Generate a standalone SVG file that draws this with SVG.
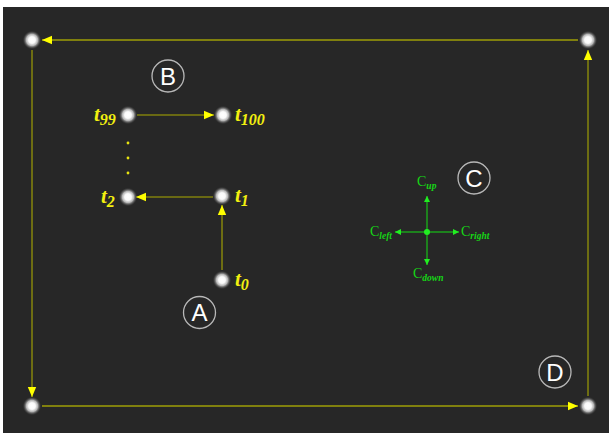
<svg xmlns="http://www.w3.org/2000/svg" width="609" height="433" viewBox="0 0 609 433">
  <style>
    .wire { stroke: #80800e; stroke-width: 2; fill: none; }
    .wire-thin { stroke: #80800e; stroke-width: 1.6; fill: none; }
    .gwire { stroke: #1c9a1c; stroke-width: 1.6; fill: none; }
    .tlabel { font-family: "Liberation Serif", "DejaVu Serif", serif; font-style: italic; font-weight: bold; font-size: 21px; fill: #f2ef10; }
    .tsub { font-size: 16px; }
    .clabel { font-family: "Liberation Serif", "DejaVu Serif", serif; font-size: 14px; fill: #16d616; }
    .csub { font-size: 9.5px; font-style: italic; font-weight: bold; }
    .tag circle { fill: none; stroke: #b8b8b8; stroke-width: 1.3; }
    .tag text { font-family: "Liberation Sans", "DejaVu Sans", sans-serif; font-size: 24px; fill: #ffffff; text-anchor: middle; }
    .dot { fill: #e8e410; }
  </style>
  <defs>
    <radialGradient id="glow" cx="0.5" cy="0.5" r="0.5">
      <stop offset="0" stop-color="#ffffff"/>
      <stop offset="0.35" stop-color="#fafafa"/>
      <stop offset="0.6" stop-color="#d0d0d0" stop-opacity="0.85"/>
      <stop offset="0.8" stop-color="#808080" stop-opacity="0.45"/>
      <stop offset="1" stop-color="#272727" stop-opacity="0"/>
    </radialGradient>
    <marker id="ya" markerUnits="userSpaceOnUse" markerWidth="12" markerHeight="10" refX="10" refY="5" orient="auto">
      <path d="M0,0.8 L10,5 L0,9.2 Z" fill="#ffff00"/>
    </marker>
    <marker id="ga" markerUnits="userSpaceOnUse" markerWidth="8" markerHeight="8" refX="6" refY="3.5" orient="auto">
      <path d="M0,0.5 L6,3.5 L0,6.5 Z" fill="#22ee22"/>
    </marker>
  </defs>

  <rect x="3" y="7" width="606" height="426" fill="#272727"/>

  <!-- connectors -->
  <g id="connectors">
    <line class="wire" x1="578" y1="40" x2="42" y2="40" marker-end="url(#ya)"/>
    <line class="wire-thin" x1="32" y1="50" x2="32" y2="397" marker-end="url(#ya)"/>
    <line class="wire" x1="42" y1="406" x2="578" y2="406" marker-end="url(#ya)"/>
    <line class="wire-thin" x1="588" y1="396" x2="588" y2="50" marker-end="url(#ya)"/>
    <line class="wire-thin" x1="137" y1="115" x2="214" y2="115" marker-end="url(#ya)"/>
    <line class="wire-thin" x1="213" y1="197" x2="136" y2="197" marker-end="url(#ya)"/>
    <line class="wire-thin" x1="222" y1="270" x2="222" y2="205" marker-end="url(#ya)"/>
    <line class="gwire" x1="427" y1="232" x2="427" y2="196" marker-end="url(#ga)"/>
    <line class="gwire" x1="427" y1="232" x2="427" y2="265" marker-end="url(#ga)"/>
    <line class="gwire" x1="427" y1="232" x2="395" y2="232" marker-end="url(#ga)"/>
    <line class="gwire" x1="427" y1="232" x2="459" y2="232" marker-end="url(#ga)"/>
  </g>

  <!-- corner nodes -->
  <g id="corner-tl"><circle cx="32" cy="40" r="9.5" fill="url(#glow)"/></g>
  <g id="corner-tr"><circle cx="588" cy="40" r="9.5" fill="url(#glow)"/></g>
  <g id="corner-bl"><circle cx="32" cy="406" r="9.5" fill="url(#glow)"/></g>
  <g id="corner-br"><circle cx="588" cy="406" r="9.5" fill="url(#glow)"/></g>

  <!-- trajectory nodes -->
  <g id="t99">
    <circle cx="128" cy="115" r="9.5" fill="url(#glow)"/>
    <text class="tlabel" x="94" y="121">t<tspan class="tsub" dy="4">99</tspan></text>
  </g>
  <g id="t100">
    <circle cx="223" cy="115" r="9.5" fill="url(#glow)"/>
    <text class="tlabel" x="235" y="121">t<tspan class="tsub" dy="4">100</tspan></text>
  </g>
  <g id="t2">
    <circle cx="128" cy="197" r="9.5" fill="url(#glow)"/>
    <text class="tlabel" x="101" y="203">t<tspan class="tsub" dy="4">2</tspan></text>
  </g>
  <g id="t1">
    <circle cx="222" cy="196" r="9.5" fill="url(#glow)"/>
    <text class="tlabel" x="235" y="202">t<tspan class="tsub" dy="4">1</tspan></text>
  </g>
  <g id="t0">
    <circle cx="222" cy="280" r="9.5" fill="url(#glow)"/>
    <text class="tlabel" x="235" y="286">t<tspan class="tsub" dy="4">0</tspan></text>
  </g>
  <g id="ellipsis">
    <circle class="dot" cx="128" cy="143" r="1.4"/>
    <circle class="dot" cx="128" cy="158" r="1.4"/>
    <circle class="dot" cx="128" cy="173" r="1.4"/>
  </g>

  <!-- direction cross -->
  <g id="cross">
    <circle cx="427" cy="232" r="3" fill="#22ee22"/>
    <text class="clabel" x="417" y="186">C<tspan class="csub" dy="3">up</tspan></text>
    <text class="clabel" x="370" y="236">C<tspan class="csub" dy="3">left</tspan></text>
    <text class="clabel" x="461" y="236">C<tspan class="csub" dy="3">right</tspan></text>
    <text class="clabel" x="413" y="278">C<tspan class="csub" dy="3">down</tspan></text>
  </g>

  <!-- region tags -->
  <g id="tag-a" class="tag"><circle cx="199.5" cy="312.5" r="16"/><text x="199.5" y="321">A</text></g>
  <g id="tag-b" class="tag"><circle cx="168" cy="76" r="16"/><text x="168" y="84.5">B</text></g>
  <g id="tag-c" class="tag"><circle cx="474" cy="178" r="16"/><text x="474" y="186.5">C</text></g>
  <g id="tag-d" class="tag"><circle cx="555" cy="372" r="16"/><text x="555" y="380.5">D</text></g>
</svg>
